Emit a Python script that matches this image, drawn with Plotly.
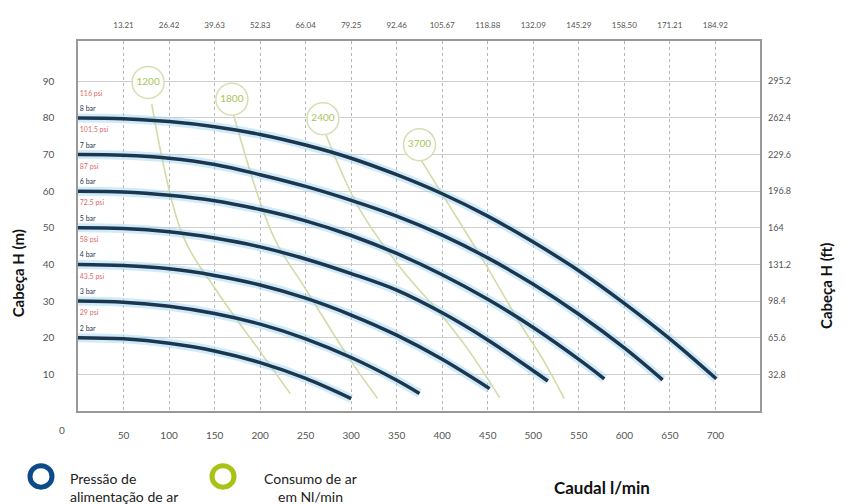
import plotly.graph_objects as go

# ---------------- data ----------------
flow_ticks = [50, 100, 150, 200, 250, 300, 350, 400, 450, 500, 550, 600, 650, 700]
gpm_labels = ["13.21", "26.42", "39.63", "52.83", "66.04", "79.25", "92.46",
              "105.67", "118.88", "132.09", "145.29", "158.50", "171.21", "184.92"]
head_ticks = [10, 20, 30, 40, 50, 60, 70, 80, 90]
ft_labels = ["32.8", "65.6", "98.4", "131.2", "164", "196.8", "229.6", "262.4", "295.2"]

# pressure curves (flow l/min, head m)
q_2bar = [0, 50, 100, 150, 200, 250, 300]
h_2bar = [20, 19.7, 18.5, 16.4, 13.2, 8.9, 3.4]
q_3bar = [0, 50, 100, 150, 200, 250, 300, 350, 375]
h_3bar = [30, 29.7, 28.6, 26.6, 23.7, 19.7, 14.6, 8.4, 4.8]
q_4bar = [0, 50, 100, 150, 200, 250, 300, 350, 400, 452]
h_4bar = [40, 39.7, 38.8, 37.0, 34.4, 30.8, 26.2, 20.7, 14.1, 6.1]
q_5bar = [0, 50, 100, 150, 200, 250, 300, 350, 400, 450, 500, 516]
h_5bar = [50, 49.8, 48.9, 47.2, 44.8, 41.5, 37.5, 33.0, 26.8, 19.4, 11.0, 8.2]
q_6bar = [0, 50, 100, 150, 200, 250, 300, 350, 400, 450, 500, 550, 578]
h_6bar = [60, 59.8, 58.9, 57.4, 55.0, 51.9, 47.9, 43.0, 37.2, 30.5, 22.8, 14.1, 8.8]
q_7bar = [0, 50, 100, 150, 200, 250, 300, 350, 400, 450, 500, 550, 600, 642]
h_7bar = [70, 69.8, 69.0, 67.3, 64.5, 61.3, 57.5, 53.2, 48.0, 41.8, 34.6, 26.4, 17.2, 8.5]
q_8bar = [0, 50, 100, 150, 200, 250, 300, 350, 400, 450, 500, 550, 600, 650, 701]
h_8bar = [80, 79.8, 79.0, 77.6, 75.5, 72.6, 69.0, 64.5, 59.3, 53.2, 46.1, 38.3, 29.4, 19.7, 8.8]

bar_labels = ["2 bar", "3 bar", "4 bar", "5 bar", "6 bar", "7 bar", "8 bar"]
psi_labels = ["29 psi", "43.5 psi", "58 psi", "72.5 psi", "87 psi", "101.5 psi", "116 psi"]
bar_heads = [20, 30, 40, 50, 60, 70, 80]

# air consumption curves (Nl/min)
q_1200 = [81, 115, 152, 200, 233]
h_1200 = [83.8, 48.0, 32.9, 16.2, 4.8]
q_1800 = [170, 214, 251, 298, 329]
h_1800 = [81.7, 48.0, 32.9, 14.3, 3.4]
q_2400 = [272, 309, 357, 397, 430, 463]
h_2400 = [75.6, 55.2, 38.2, 26.8, 16.2, 3.7]
q_3700 = [377, 408, 452, 485, 512, 534]
h_3700 = [68.4, 56.0, 38.2, 24.1, 13.5, 3.4]
air_labels = ["1200", "1800", "2400", "3700"]
air_label_q = [77, 169, 269, 375]
air_label_h = [89.7, 85.1, 79.8, 72.7]

# ---------------- figure ----------------
FONT = "Lato, 'Open Sans', sans-serif"
NAVY = "#1d3650"
HALO = "rgba(150,210,240,0.45)"
PALE_GREEN = "#d3dba6"

fig = go.Figure()

pressure = [(q_2bar, h_2bar), (q_3bar, h_3bar), (q_4bar, h_4bar), (q_5bar, h_5bar),
            (q_6bar, h_6bar), (q_7bar, h_7bar), (q_8bar, h_8bar)]
air = [(q_1200, h_1200), (q_1800, h_1800), (q_2400, h_2400), (q_3700, h_3700)]

for q, h in air:
    fig.add_trace(go.Scatter(x=q, y=h, mode="lines", line=dict(color=PALE_GREEN, width=1.6, shape="spline"),
                             hoverinfo="skip", showlegend=False))

fig.add_trace(go.Scatter(x=air_label_q, y=air_label_h, mode="markers+text", text=air_labels,
                         textposition="middle center",
                         textfont=dict(family=FONT, size=10, color="#a6c65a"),
                         marker=dict(symbol="circle", size=32, color="white",
                                     line=dict(color="#d6dfb2", width=1.5)),
                         hoverinfo="skip", showlegend=False))

for q, h in pressure:
    fig.add_trace(go.Scatter(x=q, y=h, mode="lines", line=dict(color=HALO, width=9, shape="spline"),
                             hoverinfo="skip", showlegend=False))
    fig.add_trace(go.Scatter(x=q, y=h, mode="lines", line=dict(color=NAVY, width=3.5, shape="spline"),
                             hoverinfo="skip", showlegend=False))

# curve labels
fig.add_trace(go.Scatter(x=[2] * len(bar_heads), y=[b + 2.4 for b in bar_heads], mode="text",
                         text=bar_labels, textposition="middle right",
                         textfont=dict(family=FONT, size=7, color="#2a3a50"),
                         hoverinfo="skip", showlegend=False))
fig.add_trace(go.Scatter(x=[2] * len(bar_heads), y=[b + 6.6 for b in bar_heads], mode="text",
                         text=psi_labels, textposition="middle right",
                         textfont=dict(family=FONT, size=7, color="#e06a6a"),
                         hoverinfo="skip", showlegend=False))

# invisible trace for secondary axes
fig.add_trace(go.Scatter(x=flow_ticks, y=head_ticks + [None] * 5, xaxis="x2", yaxis="y2",
                         mode="markers", marker=dict(opacity=0), hoverinfo="skip", showlegend=False))

XR = [0, 749]
YR = [0, 101]
tickfont = dict(family=FONT, size=9, color="#555")

fig.update_layout(
    width=847, height=504,
    margin=dict(l=70, r=95, t=24, b=101),
    paper_bgcolor="white", plot_bgcolor="white",
    xaxis=dict(range=XR, tickvals=flow_ticks, ticktext=[str(v) for v in flow_ticks],
               showgrid=True, gridcolor="#b8b8b8", griddash="dot", gridwidth=1,
               showline=True, linecolor="#999", linewidth=1.5, mirror=True,
               ticks="", ticklabelstandoff=14, tickfont=dict(family=FONT, size=10, color="#555"),
               zeroline=False, fixedrange=True),
    xaxis2=dict(range=XR, overlaying="x", side="top", tickvals=flow_ticks, ticktext=gpm_labels,
                showgrid=False, ticks="", ticklabelstandoff=10,
                tickfont=dict(family=FONT, size=8, color="#555"), zeroline=False, showline=False),
    yaxis=dict(range=YR, tickvals=head_ticks, ticktext=[str(v) for v in head_ticks],
               showgrid=True, gridcolor="#cfcfcf", gridwidth=1,
               showline=True, linecolor="#999", linewidth=1.5, mirror=True,
               ticks="", ticklabelstandoff=20, tickfont=dict(family=FONT, size=10, color="#555"),
               zeroline=False, fixedrange=True),
    yaxis2=dict(range=YR, overlaying="y", side="right", tickvals=head_ticks, ticktext=ft_labels,
                showgrid=False, ticks="", ticklabelstandoff=7, tickfont=tickfont,
                zeroline=False, showline=False),
)

# page-pixel -> paper helpers (page pixels as seen in the screenshot)
def px_x(p):
    return (p - 78) / 682.0

def px_y(p):
    return (411 - p) / 379.0

def note(text, x, y, size, color="#222", angle=0, xanchor="center"):
    return dict(text=text, x=px_x(x), y=px_y(y), xref="paper", yref="paper", showarrow=False,
                xanchor=xanchor, yanchor="middle", textangle=angle,
                font=dict(family=FONT, size=size, color=color))

ann = [
    note("0", 62, 430, 10, "#555"),
    note("<b>Cabeça H (m)</b>", 18, 270, 15, "#111", -90),
    note("<b>Cabeça H (ft)</b>", 826, 283, 15, "#111", -90),
    note("<b>Caudal l/min</b>", 602, 489, 17, "#111"),
    note("Pressão de", 68, 480, 14, xanchor="left"),
    note("alimentação de ar", 68, 499, 14, xanchor="left"),
    note("Consumo de ar", 310, 480, 14),
    note("em Nl/min", 310, 499, 14),
]
fig.update_layout(annotations=ann)

def ring(cx, cy, color):
    r = 11
    return dict(type="circle", xref="paper", yref="paper",
                x0=px_x(cx - r), x1=px_x(cx + r), y0=px_y(cy + r), y1=px_y(cy - r),
                line=dict(color=color, width=5), fillcolor="white", layer="above")

fig.update_layout(shapes=[ring(41, 478, "#0d4a8a"), ring(223, 478, "#a9c214")])

fig.write_html("out.html")
